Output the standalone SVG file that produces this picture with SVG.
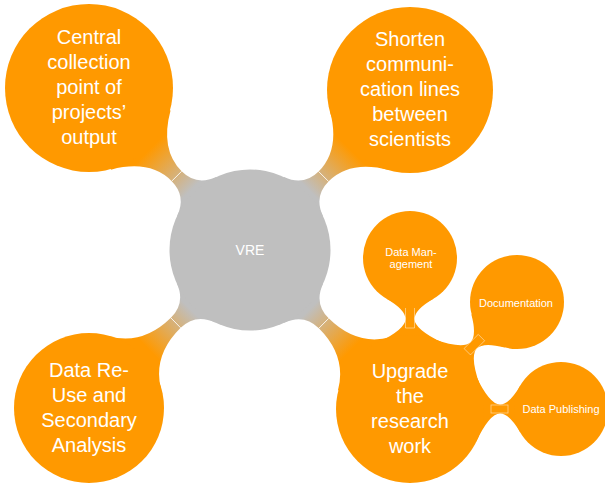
<svg xmlns="http://www.w3.org/2000/svg" width="605" height="484" viewBox="0 0 605 484">
<style>
.orange{fill:#FF9900}
.grey{fill:#BFBFBF}
.t{fill:#FFFFFF;font-family:"Liberation Sans",Arial,Helvetica,sans-serif;text-anchor:middle}
.big{font-size:20px}
.small{font-size:11px}
.mid{stroke:#FFFFFF;stroke-width:0.8;fill:none}
.box{stroke:#FFFFFF;stroke-opacity:0.55;stroke-width:0.8;fill:none}
</style>
<defs>
<linearGradient id="g" gradientUnits="userSpaceOnUse" x1="84" y1="0" x2="142" y2="0">
<stop offset="0" stop-color="#BFBFBF"/>
<stop offset="1" stop-color="#FF9900"/>
</linearGradient>
</defs>
<g id="connectors">
<g transform="translate(250,250) rotate(-134.82)">
<path fill="url(#g)" d="M75.6,27.5 Q83.1,7 104,7 Q134.8,7 155,42 L228,0 L155,-42 Q134.8,-7 104,-7 Q83.1,-7 75.6,-27.5 L0,0 Z"/>
<line class="mid" x1="104" y1="-7" x2="104" y2="7"/>
</g>
<g transform="translate(250,250) rotate(-45)">
<path fill="url(#g)" d="M75.6,27.5 Q83.1,7 104,7 Q134.8,7 155,42 L226,0 L155,-42 Q134.8,-7 104,-7 Q83.1,-7 75.6,-27.5 L0,0 Z"/>
<line class="mid" x1="104" y1="-7" x2="104" y2="7"/>
</g>
<g transform="translate(250,250) rotate(135.54)">
<path fill="url(#g)" d="M75.6,27.5 Q83.1,7 104,7 Q143.7,7 161.3,37.5 L225.6,0 L161.3,-37.5 Q143.7,-7 104,-7 Q83.1,-7 75.6,-27.5 L0,0 Z"/>
<line class="mid" x1="104" y1="-7" x2="104" y2="7"/>
</g>
<g transform="translate(250,250) rotate(44.82)">
<path fill="url(#g)" d="M75.6,27.5 Q83.1,7 104,7 Q143.7,7 161.3,37.5 L225.6,0 L161.3,-37.5 Q143.7,-7 104,-7 Q83.1,-7 75.6,-27.5 L0,0 Z"/>
<line class="mid" x1="104" y1="-7" x2="104" y2="7"/>
</g>
<g transform="translate(410,409) rotate(-90)">
<path class="orange" d="M66,33 Q79.6,4.5 90,4.5 Q99.3,4.5 110.3,23.5 L151,0 L110.3,-23.5 Q99.3,-4.5 90,-4.5 Q79.6,-4.5 66,-33 L0,0 Z"/>
<path class="box" d="M101,-4.5 L81,-4.5 L81,4.5 L101,4.5"/>
</g>
<g transform="translate(410,409) rotate(-45)">
<path class="orange" d="M66,33 Q79.6,4.5 90,4.5 Q99.3,4.5 110.3,23.5 L151,0 L110.3,-23.5 Q99.3,-4.5 90,-4.5 Q79.6,-4.5 66,-33 L0,0 Z"/>
<rect class="box" x="81" y="-4.5" width="20" height="9"/>
</g>
<g transform="translate(410,409)">
<path class="orange" d="M66,33 Q79.6,4.5 90,4.5 Q99.3,4.5 110.3,23.5 L151,0 L110.3,-23.5 Q99.3,-4.5 90,-4.5 Q79.6,-4.5 66,-33 L0,0 Z"/>
<rect class="box" x="81" y="-4" width="17" height="8"/>
</g>
</g>
<g id="vre">
<circle class="grey" cx="250" cy="250" r="80.5"/>
<text class="t" x="250" y="255" font-size="14">VRE</text>
</g>
<g id="central">
<circle class="orange" cx="89" cy="88" r="84"/>
<text class="t big" x="89" y="44">Central</text>
<text class="t big" x="89" y="69">collection</text>
<text class="t big" x="89" y="94">point of</text>
<text class="t big" x="89" y="119">projects’</text>
<text class="t big" x="89" y="144">output</text>
</g>
<g id="shorten">
<circle class="orange" cx="410" cy="90" r="83"/>
<text class="t big" x="410" y="46">Shorten</text>
<text class="t big" x="410" y="71">communi-</text>
<text class="t big" x="410" y="96">cation lines</text>
<text class="t big" x="410" y="121">between</text>
<text class="t big" x="410" y="146">scientists</text>
</g>
<g id="reuse">
<circle class="orange" cx="89" cy="408" r="75"/>
<text class="t big" x="89" y="377">Data Re-</text>
<text class="t big" x="89" y="402">Use and</text>
<text class="t big" x="89" y="427">Secondary</text>
<text class="t big" x="89" y="452">Analysis</text>
</g>
<g id="upgrade">
<circle class="orange" cx="410" cy="409" r="74"/>
<text class="t big" x="410" y="378">Upgrade</text>
<text class="t big" x="410" y="403">the</text>
<text class="t big" x="410" y="428">research</text>
<text class="t big" x="410" y="453">work</text>
</g>
<g id="datamanagement">
<circle class="orange" cx="410" cy="258" r="47"/>
<text class="t small" x="411" y="256">Data Man-</text>
<text class="t small" x="411" y="268">agement</text>
</g>
<g id="documentation">
<circle class="orange" cx="517" cy="302" r="47"/>
<text class="t small" x="516" y="307">Documentation</text>
</g>
<g id="datapublishing">
<circle class="orange" cx="561" cy="409" r="47"/>
<text class="t small" x="561" y="413">Data Publishing</text>
</g>
</svg>
